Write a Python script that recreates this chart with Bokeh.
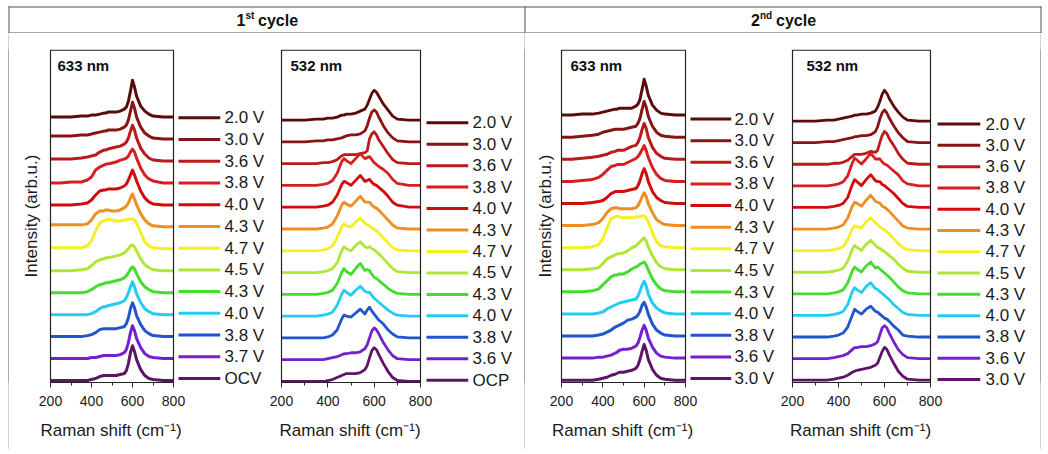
from math import pi
from bokeh.plotting import figure
from bokeh.models import (Range1d, FixedTicker, BoxAnnotation, ColumnDataSource, Spacer,
                          LinearAxis, Title)
from bokeh.layouts import column, row
from bokeh.embed import file_html
from bokeh.resources import INLINE
from bokeh.core.properties import value

FONT = "Liberation Sans"

# ---------------- data (intensity above each trace's own baseline, arb. u.) ----------------
SHIFT = [200, 250, 300, 350, 380, 400, 420, 440, 460, 470, 480, 500, 520, 540,
         560, 570, 580, 590, 600, 610, 620, 640, 660, 680, 700, 750, 800]

# 1st cycle, 633 nm (top trace first)
C1_633_LABELS = ["2.0 V", "3.0 V", "3.6 V", "3.8 V", "4.0 V", "4.3 V", "4.7 V",
                 "4.5 V", "4.3 V", "4.0 V", "3.8 V", "3.7 V", "OCV"]
A01 = [0,0,0,1,1,2,2,3,4,4,5,5,5,6,8,10,16,26,37,30,21,11,6,3,1,0,0]
A02 = [3,3,3,4,4,5,6,7,8,8,9,9,9,10,12,14,19,28,37,31,22,12,6,3,1,0,0]
A03 = [2,2,2,3,4,5,6,9,11,11,12,13,14,15,17,19,23,30,36,31,23,13,7,3,1,0,0]
A04 = [0,0,1,1,3,6,13,16,18,19,19,20,21,23,24,25,27,31,34,31,25,15,8,4,2,0,0]
A05 = [0,0,0,1,2,5,10,14,15,15,16,16,16,17,19,21,25,30,35,30,24,14,7,3,1,0,0]
A06 = [2,2,2,2,3,7,13,16,16,17,17,16,16,17,19,21,24,29,33,28,22,13,7,3,1,0,0]
A07 = [1,1,1,1,3,8,18,26,28,29,30,29,28,28,29,29,30,30,30,29,26,16,7,3,1,0,0]
A08 = [0,0,0,1,2,5,9,11,12,13,13,14,15,16,18,20,22,25,26,24,20,12,6,3,1,0,0]
A09 = [0,0,0,0,1,3,6,8,9,10,10,11,12,13,15,17,20,24,26,24,19,11,6,3,1,0,0]
A10 = [0,0,0,0,0,1,3,6,8,8,9,10,11,12,14,17,22,28,33,28,21,12,6,3,1,0,0]
A11 = [0,0,0,0,1,2,4,7,8,8,8,8,8,9,10,13,19,28,34,29,21,12,6,3,1,0,0]
A12 = [0,0,0,0,0,1,1,2,3,3,3,3,3,4,6,9,16,26,33,28,20,11,5,2,1,0,0]
A13 = [0,0,0,0,0,1,2,4,5,5,5,5,5,6,7,10,17,28,35,29,21,11,5,2,1,0,0]

# 1st cycle, 532 nm
C1_532_LABELS = ["2.0 V", "3.0 V", "3.6 V", "3.8 V", "4.0 V", "4.3 V", "4.7 V",
                 "4.5 V", "4.3 V", "4.0 V", "3.8 V", "3.6 V", "OCP"]
B01 = [0,0,0,1,1,2,2,3,5,5,6,6,7,9,11,15,21,27,30,28,24,16,10,4,1,0,0]
B02 = [0,0,0,1,1,2,2,3,4,5,6,7,7,8,11,16,24,30,32,30,25,16,9,4,1,0,0]
B03 = [0,0,0,0,1,1,2,4,8,9,9,9,9,10,11,13,25,30,32,29,24,17,10,4,1,0,0]
B04 = [0,0,0,0,1,2,5,12,24,27,25,22,27,32,27,28,29,26,23,21,19,16,12,6,2,0,0]
B05 = [0,0,0,0,1,2,5,12,23,26,25,22,27,32,26,27,28,25,23,22,20,16,11,5,2,0,0]
B06 = [0,0,0,0,1,2,5,13,24,27,25,23,28,33,27,27,27,24,22,21,19,14,9,4,1,0,0]
B07 = [0,0,0,0,1,2,5,13,24,27,25,24,29,33,28,26,25,23,22,20,18,13,8,3,1,0,0]
B08 = [0,0,0,0,1,2,4,10,22,26,24,22,27,31,26,25,26,24,23,21,19,14,9,4,1,0,0]
B09 = [0,0,0,0,1,2,4,11,22,26,23,20,26,31,24,25,24,20,17,16,14,10,6,3,1,0,0]
B10 = [0,0,0,0,1,2,4,11,22,26,24,21,26,30,25,24,24,21,18,16,14,10,6,3,1,0,0]
B11 = [0,0,0,0,0,1,3,8,19,23,22,21,25,29,24,28,31,27,24,21,18,14,8,4,1,0,0]
B12 = [0,0,0,0,0,1,2,3,5,6,6,7,7,8,11,15,22,29,32,30,26,17,10,4,1,0,0]
B13 = [0,0,0,0,0,1,2,4,6,7,8,8,8,9,12,16,24,31,34,32,27,18,10,4,1,0,0]

# 2nd cycle, 633 nm
C2_633_LABELS = ["2.0 V", "3.0 V", "3.6 V", "3.8 V", "4.0 V", "4.3 V", "4.7 V",
                 "4.5 V", "4.3 V", "4.0 V", "3.8 V", "3.6 V", "3.0 V"]
C01 = [0,0,1,1,2,3,4,5,6,6,7,7,7,7,9,11,16,26,36,29,20,10,5,2,1,0,0]
C02 = [0,0,1,2,3,5,6,7,8,8,8,8,9,10,11,14,19,28,36,30,21,11,5,2,1,0,0]
C03 = [0,0,1,2,3,4,5,7,8,9,9,9,11,13,14,17,22,30,36,31,22,12,6,3,1,0,0]
C04 = [0,0,1,2,4,7,11,15,16,17,17,17,19,21,23,25,28,32,36,31,24,14,7,3,1,0,0]
C05 = [0,0,0,1,2,3,6,10,12,12,12,12,13,14,15,18,23,30,35,30,22,12,6,3,1,0,0]
C06 = [0,0,0,1,3,7,13,17,18,18,17,17,17,17,18,20,24,29,33,29,22,13,6,3,1,0,0]
C07 = [0,0,0,1,3,9,20,29,31,32,31,30,30,30,31,31,31,32,32,30,26,15,6,2,1,0,0]
C08 = [0,0,0,1,2,6,11,13,15,16,16,17,19,22,24,26,28,30,32,29,23,14,7,3,1,0,0]
C09 = [0,0,0,1,3,7,11,15,17,17,18,18,20,23,25,26,28,29,30,27,22,13,7,3,1,0,0]
C10 = [0,0,0,0,1,2,5,7,9,10,11,12,13,14,15,18,23,29,33,28,20,11,6,3,1,0,0]
C11 = [0,0,0,0,1,2,4,6,9,10,11,13,16,17,19,21,25,31,34,29,22,12,6,3,1,0,0]
C12 = [0,0,0,0,1,1,2,3,5,6,8,9,9,10,12,15,21,28,33,28,20,11,5,2,1,0,0]
C13 = [0,0,0,0,1,2,3,5,6,7,8,8,9,10,12,15,21,29,36,30,21,11,5,2,1,0,0]

# 2nd cycle, 532 nm
C2_532_LABELS = ["2.0 V", "3.0 V", "3.6 V", "3.8 V", "4.0 V", "4.3 V", "4.7 V",
                 "4.5 V", "4.3 V", "4.0 V", "3.8 V", "3.6 V", "3.0 V"]
D01 = [0,0,0,1,1,2,3,4,5,6,6,7,7,8,10,14,20,27,31,28,23,15,9,4,1,0,0]
D02 = [0,0,0,1,1,2,3,4,5,6,6,7,7,8,11,16,24,30,33,30,25,17,10,5,1,0,0]
D03 = [0,0,0,0,1,1,2,4,8,10,10,10,11,13,12,14,22,29,33,31,26,19,11,5,1,0,0]
D04 = [0,0,0,0,1,2,4,10,23,28,26,22,27,33,27,27,27,24,22,21,19,15,11,5,2,0,0]
D05 = [0,0,0,0,1,2,4,10,23,28,26,22,28,33,27,26,26,23,22,20,18,14,9,4,1,0,0]
D06 = [0,0,0,0,1,2,4,11,23,27,26,23,29,34,28,27,26,23,22,20,18,13,8,3,1,0,0]
D07 = [0,0,0,0,1,2,4,11,22,25,24,23,29,33,28,26,24,22,21,19,17,12,7,3,1,0,0]
D08 = [0,0,0,0,1,2,4,11,23,27,25,22,28,32,27,25,24,22,21,19,17,13,8,4,1,0,0]
D09 = [0,0,0,0,1,2,4,11,23,27,25,22,28,32,26,27,25,23,21,19,17,12,7,3,1,0,0]
D10 = [0,0,0,0,1,2,4,11,24,28,26,23,29,33,27,26,24,22,20,18,16,11,7,3,1,0,0]
D11 = [0,0,0,0,1,2,4,10,22,28,26,23,28,31,26,25,23,21,19,18,16,11,7,2,1,0,0]
D12 = [0,0,0,0,1,2,3,5,9,11,11,12,12,13,15,17,24,31,33,31,26,17,9,4,1,0,0]
D13 = [0,0,0,0,1,2,3,5,8,9,10,11,12,13,15,17,23,29,33,31,26,17,9,4,1,0,0]

TICKS = [200, 400, 600, 800]
MINOR_TICKS = [300, 500, 700]

# ---------------- styles / layout ----------------
COLORS = ["#5c0b0b", "#8a1414", "#bb1a1a", "#d81f1f", "#d20c0c", "#ef8f22", "#f5ef22",
          "#b0e636", "#44dd2e", "#24cdef", "#1f55cf", "#7420cf", "#5e1568"]
BORDER = "#555555"
TXT = "#1a1a1a"

PANELS = [
    dict(spectra=[A01, A02, A03, A04, A05, A06, A07, A08, A09, A10, A11, A12, A13],
         labels=C1_633_LABELS, title="633 nm", fig=(9, 268), box=(50, 173),
         base=(117.0, 382.0), leg=(117.7, 380.0), leg_line=(178, 220), leg_text=224,
         title_x=57, ylabel_gap=7, lw=3.0),
    dict(spectra=[B01, B02, B03, B04, B05, B06, B07, B08, B09, B10, B11, B12, B13],
         labels=C1_532_LABELS, title="532 nm", fig=(268, 524), box=(281, 420),
         base=(120.0, 383.0), leg=(122.7, 381.7), leg_line=(426, 468), leg_text=472,
         title_x=290, ylabel_gap=None, lw=2.8),
    dict(spectra=[C01, C02, C03, C04, C05, C06, C07, C08, C09, C10, C11, C12, C13],
         labels=C2_633_LABELS, title="633 nm", fig=(525, 779), box=(561, 685),
         base=(115.0, 381.7), leg=(119.0, 380.0), leg_line=(690, 731), leg_text=734,
         title_x=570, ylabel_gap=4, lw=3.0),
    dict(spectra=[D01, D02, D03, D04, D05, D06, D07, D08, D09, D10, D11, D12, D13],
         labels=C2_532_LABELS, title="532 nm", fig=(779, 1040), box=(792, 930),
         base=(121.0, 381.7), leg=(124.0, 381.0), leg_line=(937, 980), leg_text=985,
         title_x=806, ylabel_gap=None, lw=2.8),
]

ROW_TOP = 33      # absolute px where panel figures start
AXIS_Y = 384      # absolute px of the x axis line
BOX_TOP = 49      # absolute px of panel box top
ROW_BOTTOM = 449  # absolute px of the outer bottom border
FIG_H = ROW_BOTTOM - ROW_TOP
XLABEL_W = 143    # rendered width of the x-axis title


def make_panel(cfg):
    fl, fr = cfg["fig"]
    bl, br = cfg["box"]
    frame_l = bl - 3
    frame_r = cfg["leg_line"][1]
    sc = 600.0 / (br - bl)

    def X(px):  # absolute px -> data x
        return 200 + (px - bl) * sc

    def Y(py):  # absolute px -> data y
        return AXIS_Y - py

    p = figure(width=fr - fl, height=FIG_H, output_backend="svg", toolbar_location=None,
               x_range=Range1d(X(frame_l), X(frame_r)),
               y_range=Range1d(Y(AXIS_Y), Y(BOX_TOP)),
               min_border_left=frame_l - fl, min_border_right=fr - frame_r,
               min_border_top=BOX_TOP - ROW_TOP, min_border_bottom=ROW_BOTTOM - AXIS_Y,
               y_axis_location=None, background_fill_color="white",
               border_fill_color="white")
    p.outline_line_color = None
    p.grid.visible = False

    ax = p.xaxis[0]
    ax.bounds = (200, 800)
    ax.ticker = FixedTicker(ticks=TICKS, minor_ticks=MINOR_TICKS)
    ax.major_tick_in = 0
    ax.major_tick_out = 5
    ax.minor_tick_in = 0
    ax.minor_tick_out = 3
    ax.axis_line_color = "#222222"
    ax.major_tick_line_color = "#222222"
    ax.minor_tick_line_color = "#222222"
    ax.major_label_text_font = FONT
    ax.major_label_text_font_size = "14px"
    ax.major_label_text_color = TXT
    ax.major_label_standoff = 8

    # x-axis title, centred under the panel box
    box_c = (bl + br) / 2.0
    p.add_layout(Title(text="Raman shift (cm⁻¹)", align="left",
                       offset=box_c - XLABEL_W / 2.0 - frame_l,
                       text_font=FONT, text_font_size="17px", text_font_style="normal",
                       text_color=TXT, standoff=20), "below")

    # y-axis title (first panel of each cycle)
    if cfg["ylabel_gap"] is not None:
        yax = LinearAxis(ticker=FixedTicker(ticks=[], minor_ticks=[]),
                         axis_line_color=None, major_tick_line_color=None,
                         minor_tick_line_color=None, axis_label="Intensity (arb.u.)",
                         axis_label_text_font=FONT, axis_label_text_font_size="17px",
                         axis_label_text_font_style="normal", axis_label_text_color=TXT,
                         axis_label_standoff=cfg["ylabel_gap"])
        p.add_layout(yax, "left")

    # panel frame
    p.add_layout(BoxAnnotation(left=200, right=800, bottom=Y(AXIS_Y), top=Y(BOX_TOP + 0.7),
                               fill_alpha=0, line_color="#222222", line_width=1.2,
                               line_alpha=1))

    n = len(cfg["spectra"])
    b0, b1 = cfg["base"]
    l0, l1 = cfg["leg"]
    rows = []
    for k, (spec, col) in enumerate(zip(cfg["spectra"], COLORS)):
        off = Y(b0 + (b1 - b0) * k / (n - 1))
        src = ColumnDataSource(dict(x=SHIFT, y=[v + off for v in spec]))
        p.line("x", "y", source=src, line_color=col, line_width=cfg["lw"],
               line_join="round")
        ry = round(Y(l0 + (l1 - l0) * k / (n - 1)), 3)
        rows.append(ry)
        p.segment(x0=[X(cfg["leg_line"][0])], x1=[X(cfg["leg_line"][1])],
                  y0=[ry], y1=[ry], line_color=col, line_width=3)

    # legend labels as a right-hand axis whose ticks sit on the legend rows
    lax = LinearAxis(ticker=FixedTicker(ticks=rows, minor_ticks=[]),
                     major_label_overrides={r: lab for r, lab in zip(rows, cfg["labels"])},
                     axis_line_color=None, major_tick_line_color=None,
                     minor_tick_line_color=None, major_tick_out=0, major_tick_in=0,
                     minor_tick_out=0, minor_tick_in=0,
                     major_label_standoff=cfg["leg_text"] - frame_r,
                     major_label_text_font=FONT, major_label_text_font_size="17px",
                     major_label_text_color=TXT)
    p.add_layout(lax, "right")

    p.text(x=[X(cfg["title_x"])], y=[Y(65)], text=[cfg["title"]], text_font=value(FONT),
           text_font_size="15px", text_font_style="bold", text_baseline="middle",
           text_color="#111111")
    return p


def rule(w, h):
    """A thin filled figure used as a border rule."""
    r = figure(width=w, height=h, output_backend="svg", toolbar_location=None,
               min_border=0, x_axis_location=None, y_axis_location=None,
               background_fill_color=BORDER, border_fill_color=BORDER)
    r.outline_line_color = None
    r.grid.visible = False
    return r


panels = [make_panel(c) for c in PANELS]

# header strip with the cycle titles
h = figure(width=1048, height=ROW_TOP, output_backend="svg", toolbar_location=None,
           x_range=Range1d(0, 1048), y_range=Range1d(ROW_TOP, 0),
           min_border=0, x_axis_location=None, y_axis_location=None)
h.outline_line_color = None
h.grid.visible = False
h.segment(x0=[8, 8, 8.5, 524.5, 1040.5], y0=[6.5, 32.5, 6, 6, 6],
          x1=[1041, 1041, 8.5, 524.5, 1040.5], y1=[6.5, 32.5, 40, 40, 40],
          line_color=BORDER, line_width=1)
hdr = dict(text_font=value(FONT), text_font_style="bold", text_color="#111111",
           text_baseline="middle", text_align="left")
h.text(x=[236, 750.5], y=[19.5, 19.5], text=["1", "2"], text_font_size="16px", **hdr)
h.text(x=[245, 759.5], y=[15, 15], text=["st", "nd"], text_font_size="10px", **hdr)
h.text(x=[257.5, 775.5], y=[19.5, 19.5], text=["cycle", "cycle"], text_font_size="16px",
       **hdr)

body = row(Spacer(width=8, height=FIG_H), rule(1, FIG_H), panels[0], panels[1],
           rule(1, FIG_H), panels[2], panels[3], rule(1, FIG_H),
           Spacer(width=7, height=FIG_H), spacing=0)
bottom = row(Spacer(width=8, height=1), rule(1033, 1), spacing=0)

layout = column(h, body, bottom, spacing=0)
open("out.html", "w").write(file_html(layout, INLINE))
